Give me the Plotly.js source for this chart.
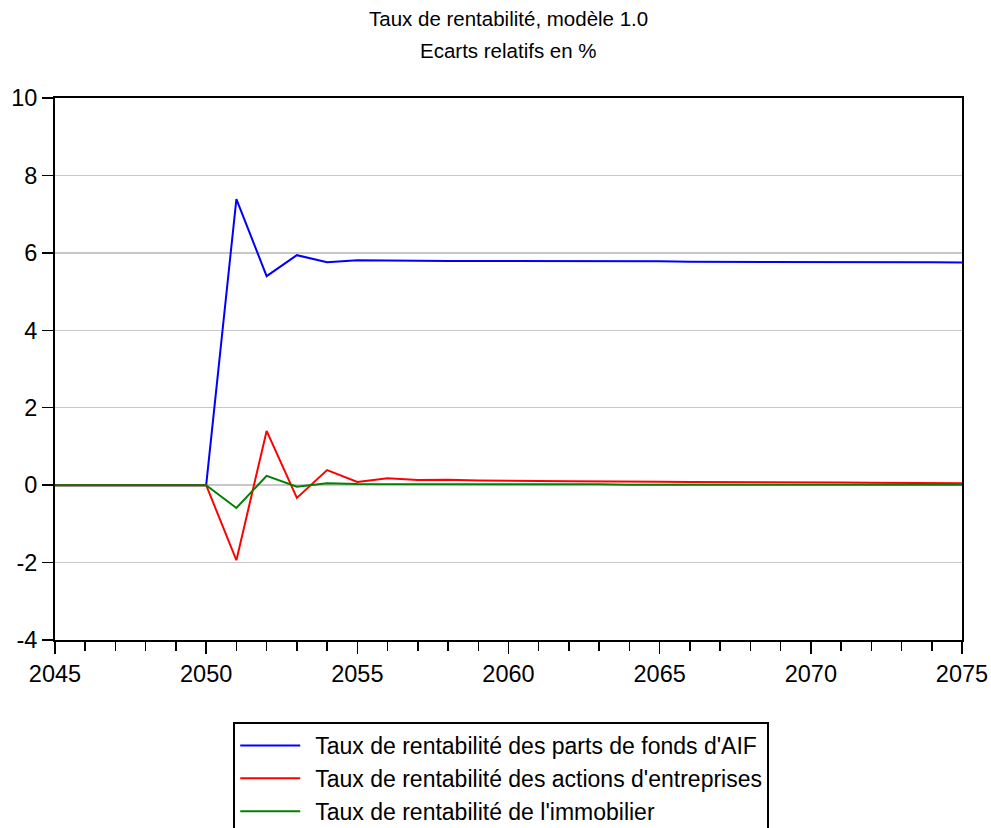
<!DOCTYPE html>
<html>
<head>
<meta charset="utf-8">
<script src="https://cdn.plot.ly/plotly-3.0.1.min.js"></script>
<style>html,body{margin:0;padding:0;background:#fff;}#chart{width:991px;height:828px;}</style>
</head>
<body>
<div id="chart"></div>
<script>
var years = [2045,2046,2047,2048,2049,2050,2051,2052,2053,2054,2055,2056,2057,2058,2059,2060,2061,2062,2063,2064,2065,2066,2067,2068,2069,2070,2071,2072,2073,2074,2075];
var aifValues = [0,0,0,0,0,0,7.39,5.40,5.94,5.76,5.81,5.80,5.80,5.79,5.79,5.79,5.78,5.78,5.78,5.78,5.78,5.77,5.77,5.77,5.77,5.77,5.77,5.76,5.76,5.76,5.75];
var actionsValues = [0,0,0,0,0,0,-1.94,1.40,-0.33,0.39,0.08,0.18,0.13,0.14,0.12,0.12,0.11,0.10,0.10,0.09,0.09,0.08,0.08,0.08,0.07,0.07,0.07,0.06,0.06,0.05,0.05];
var immoValues = [0,0,0,0,0,0,-0.59,0.24,-0.04,0.05,0.03,0.03,0.02,0.02,0.02,0.02,0.02,0.02,0.02,0.01,0.01,0.01,0.01,0.01,0.01,0.01,0.01,0.01,0.01,0.01,0.01];
var seriesNames = ["Taux de rentabilité des parts de fonds d'AIF","Taux de rentabilité des actions d'entreprises","Taux de rentabilité de l'immobilier"];
var seriesColors = ["#0000ff","#ff0000","#008000"];
var yTickVals = [-4,-2,0,2,4,6,8,10];
var yTickText = ["-4","-2","0","2","4","6","8","10"];
var titleLines = ["Taux de rentabilité, modèle 1.0","Ecarts relatifs en %"];

var traces = [aifValues, actionsValues, immoValues].map(function(v,i){
  return {x: years, y: v, type:'scatter', mode:'lines', name: seriesNames[i],
          line:{color: seriesColors[i], width:2}};
});

var layout = {
  width: 991, height: 828,
  paper_bgcolor:'#fff', plot_bgcolor:'#fff',
  font:{family:'"Liberation Sans", Arial, sans-serif', size:17, color:'#000'},
  margin:{l:55, r:29, t:98, b:188, autoexpand:false},
  annotations:[
    {text:titleLines[0], xref:'paper', yref:'paper', x:0.5, y:(640-18)/542, xanchor:'center', yanchor:'middle', showarrow:false, font:{size:20.5}},
    {text:titleLines[1], xref:'paper', yref:'paper', x:0.5, y:(640-50)/542, xanchor:'center', yanchor:'middle', showarrow:false, font:{size:20.5}}
  ],
  showlegend:true,
  legend:{x:0.492, xanchor:'center', y:-(722-640)/542, yanchor:'top', orientation:'v',
          bordercolor:'#000', borderwidth:2, bgcolor:'#fff', font:{size:23},
          tracegroupgap:0, itemwidth:70},
  xaxis:{range:[2045,2075], tickmode:'linear', tick0:2045, dtick:5, ticks:'outside', ticklen:12, tickwidth:1.5, tickcolor:'#000',
         minor:{dtick:1, ticks:'outside', ticklen:9, tickwidth:1.5, tickcolor:'#000', showgrid:false},
         showline:true, linecolor:'#000', linewidth:2, mirror:true, showgrid:false, zeroline:false,
         tickfont:{size:23.5}},
  yaxis:{range:[-4,10], tickmode:'array', tickvals:yTickVals, ticktext:yTickText, ticks:'outside', ticklen:11, tickwidth:1.5, tickcolor:'#000',
         showline:true, linecolor:'#000', linewidth:2, mirror:true, showgrid:true, gridcolor:'#c8c8c8', gridwidth:1.5,
         zeroline:false, tickfont:{size:23.5}}
};
Plotly.newPlot('chart', traces, layout, {displayModeBar:false, staticPlot:true}).then(function(){
  document.querySelectorAll('.legend .legendlines path').forEach(function(p){
    p.setAttribute('d','M5,0h60');
  });
});
</script>
</body>
</html>
